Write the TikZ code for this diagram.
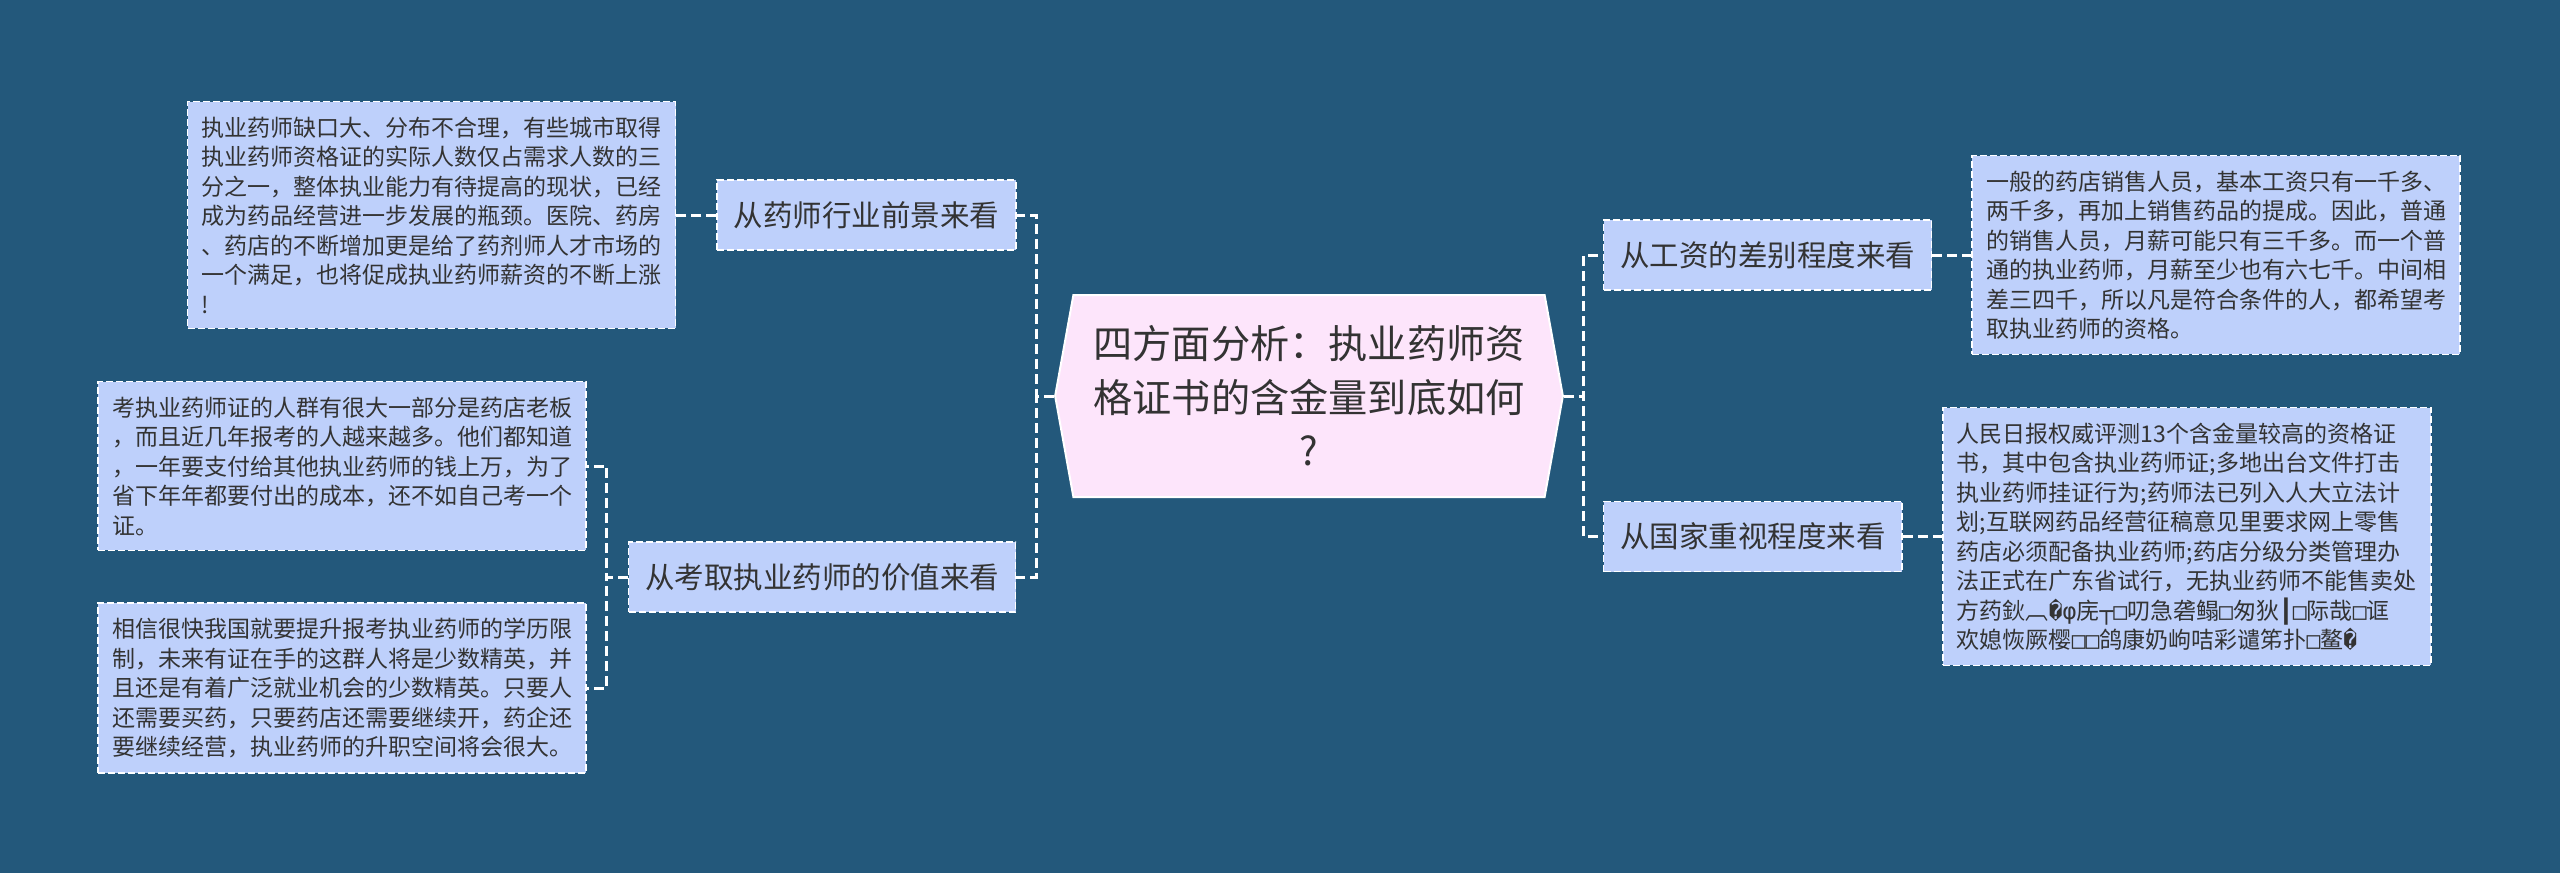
\documentclass[tikz,border=0pt]{standalone}
\usepackage{fontspec}
\setmainfont{Noto Sans CJK SC}
\newfontfamily\repfont{DejaVu Sans Mono}
\usepackage{tikz}
\usetikzlibrary{positioning}
\usetikzlibrary{shapes.symbols}

\definecolor{fondo}{RGB}{35,88,123}
\definecolor{cajaazul}{RGB}{190,208,251}
\definecolor{cajarosa}{RGB}{253,229,251}
\definecolor{texto}{RGB}{51,51,51}

\tikzset{
  raiz/.style={signal, signal to=east and west, signal pointer angle=159.5,
    draw=white, line width=1pt, fill=cajarosa, text=texto, align=center,
    inner xsep=10pt, minimum height=101pt,
    font=\fontsize{19.6pt}{26.8pt}\selectfont},
  rama/.style={draw=white, dash pattern=on 3.5pt off 1.5pt, line width=0.8pt,
    fill=cajaazul, text=texto, inner xsep=8.25pt, minimum height=35pt,
    font=\fontsize{14.75pt}{18pt}\selectfont},
  hoja/.style={rama, align=left, inner xsep=7pt, inner ysep=7.5pt, minimum height=0pt,
    font=\fontsize{11.5pt}{14.75pt}\selectfont},
  enlace/.style={draw=white, line width=1.5pt, dash pattern=on 5pt off 2.5pt}
}

\begin{document}
\begin{tikzpicture}

\path[use as bounding box, fill=fondo] (0,0) rectangle (1280pt,-436.5pt);

% Nodos
\node [raiz] at (654.5pt,-198pt) (root) {四方面分析：执业药师资\\格证书的含金量到底如何\\?};

\node [rama, left of=root, xshift=-192.8pt, yshift=90.5pt] (a) {从药师行业前景来看};
\node [hoja, left of=a, xshift=-189pt] (l1) {执业药师缺口大、分布不合理，有些城市取得\\执业药师资格证的实际人数仅占需求人数的三\\分之一，整体执业能力有待提高的现状，已经\\成为药品经营进一步发展的瓶颈。医院、药房\\、药店的不断增加更是给了药剂师人才市场的\\一个满足，也将促成执业药师薪资的不断上涨\\!};

\node [rama, left of=root, xshift=-215pt, yshift=-90.5pt] (b) {从考取执业药师的价值来看};
\node [hoja, left of=b, xshift=-211.5pt, yshift=55.5pt] (l2) {考执业药师证的人群有很大一部分是药店老板\\，而且近几年报考的人越来越多。他们都知道\\，一年要支付给其他执业药师的钱上万，为了\\省下年年都要付出的成本，还不如自己考一个\\证。};
\node [hoja, left of=b, xshift=-211.5pt, yshift=-55.5pt] (l3) {相信很快我国就要提升报考执业药师的学历限\\制，未来有证在手的这群人将是少数精英，并\\且还是有着广泛就业机会的少数精英。只要人\\还需要买药，只要药店还需要继续开，药企还\\要继续经营，执业药师的升职空间将会很大。};

\node [rama, right of=root, xshift=200.8pt, yshift=70.5pt] (c) {从工资的差别程度来看};
\node [hoja, right of=c, xshift=195.8pt] (r1) {一般的药店销售人员，基本工资只有一千多、\\两千多，再加上销售药品的提成。因此，普通\\的销售人员，月薪可能只有三千多。而一个普\\通的执业药师，月薪至少也有六七千。中间相\\差三四千，所以凡是符合条件的人，都希望考\\取执业药师的资格。};

\node [rama, right of=root, xshift=193.5pt, yshift=-70.25pt] (d) {从国家重视程度来看};
\node [hoja, right of=d, xshift=188.5pt] (r2) {人民日报权威评测13个含金量较高的资格证\\书，其中包含执业药师证;多地出台文件打击\\执业药师挂证行为;药师法已列入人大立法计\\划;互联网药品经营征稿意见里要求网上零售\\药店必须配备执业药师;药店分级分类管理办\\法正式在广东省试行，无执业药师不能售卖处\\方药鈥︹{\repfont �φ}庑{\repfont ┬□}叨急砻鳎{\repfont □}匆狄{\repfont ┃□}际哉{\repfont □}诓\\欢媳恢厥樱{\repfont □□}鸽康奶岣咭彩谴笫扑{\repfont □}鳌{\repfont �}};

% Conexiones
\draw[enlace] (root.west) -- ++(-9pt,0) |- (a.east);
\draw[enlace] (root.west) -- ++(-9pt,0) |- (b.east);
\draw[enlace] (a.west) -- (l1.east);
\draw[enlace] (b.west) -- ++(-10.5pt,0) |- (l2.east);
\draw[enlace] (b.west) -- ++(-10.5pt,0) |- (l3.east);

\draw[enlace] (root.east) -- ++(10pt,0) |- (c.west);
\draw[enlace] (root.east) -- ++(10pt,0) |- (d.west);
\draw[enlace] (c.east) -- (r1.west);
\draw[enlace] (d.east) -- (r2.west);

\end{tikzpicture}
\end{document}
